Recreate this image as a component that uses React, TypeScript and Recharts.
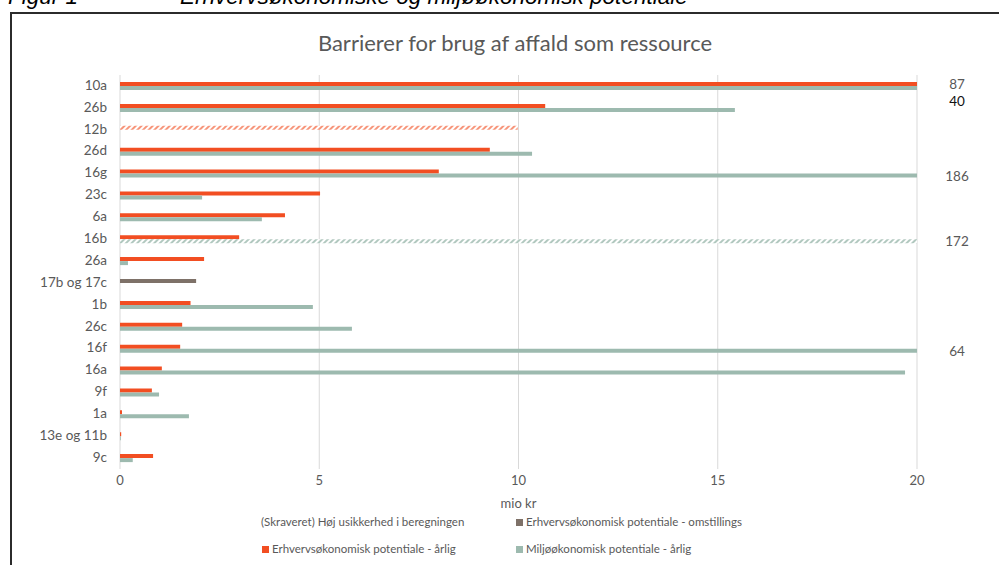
import React from 'react';
import { BarChart, Bar, XAxis, YAxis, CartesianGrid, Cell, LabelList, Legend } from 'recharts';

const categories = ['10a', '26b', '12b', '26d', '16g', '23c', '6a', '16b', '26a', '17b og 17c', '1b', '26c', '16f', '16a', '9f', '1a', '13e og 11b', '9c'];
const erhvervAarlig = [87, 10.67, 9.98, 9.28, 8.0, 5.02, 4.14, 2.99, 2.11, 0, 1.77, 1.56, 1.51, 1.05, 0.8, 0.05, 0.03, 0.83];
const erhvervOmstilling = [0, 0, 0, 0, 0, 0, 0, 0, 0, 1.91, 0, 0, 0, 0, 0, 0, 0, 0];
const miljoeAarlig = [40, 15.43, 0, 10.34, 186, 2.06, 3.56, 172, 0.2, 0, 4.84, 5.82, 64, 19.7, 0.98, 1.73, 0.02, 0.32];
const hatchedErhverv = ['12b'];
const hatchedMiljoe = ['16b'];
const xTicks = [0, 5, 10, 15, 20];

const figurLabel = 'Figur 1';
const figurText = 'Erhvervsøkonomiske og miljøøkonomisk potentiale';
const chartTitle = 'Barrierer for brug af affald som ressource';
const xAxisTitle = 'mio kr';
const legendHatch = '(Skraveret) Høj usikkerhed i beregningen';
const legendOmstilling = 'Erhvervsøkonomisk potentiale - omstillings';
const legendErhverv = 'Erhvervsøkonomisk potentiale - årlig';
const legendMiljoe = 'Miljøøkonomisk potentiale - årlig';

const ORANGE = '#F24E22';
const GREEN = '#9DBAAF';
const BROWN = '#7E7168';
const TEXT = '#595959';
const FONT = 'Lato, "Open Sans", sans-serif';

const data = categories.map((name, i) => ({
  name,
  erhverv: erhvervAarlig[i],
  omstilling: erhvervOmstilling[i],
  miljoe: miljoeAarlig[i],
}));

const W = 999;
const H = 565;
const MARGIN = { top: 75, right: 82, bottom: 4, left: 0 };
const PLOT_RIGHT = W - MARGIN.right;
const XMAX = xTicks[xTicks.length - 1];

const overflowLabel = (isGreen: boolean) => (props: any) => {
  const { y, height, value, index } = props;
  if (value == null || value <= XMAX) return null;
  const special = isGreen && index === 0;
  const cy = Number(y) + Number(height) / 2 + (special ? 13 : 0);
  return (
    <text
      x={PLOT_RIGHT + 40}
      y={cy}
      textAnchor="middle"
      dominantBaseline="central"
      fontFamily={FONT}
      fontSize={13.5}
      fill={special ? '#111' : TEXT}
    >
      {value}
    </text>
  );
};

const Swatch = ({ color }: { color: string }) => (
  <span style={{ display: 'inline-block', width: 7, height: 7, background: color, marginRight: 3, verticalAlign: 'middle', position: 'relative', top: -1 }} />
);

const LegendContent = () => {
  const row: React.CSSProperties = { position: 'absolute', whiteSpace: 'nowrap', fontFamily: FONT, fontSize: 11.5, color: TEXT, lineHeight: '14px' };
  return (
    <div style={{ position: 'relative', width: W, height: 50 }}>
      <div style={{ ...row, left: 261, top: 5 }}>{legendHatch}</div>
      <div style={{ ...row, left: 516, top: 5 }}><Swatch color={BROWN} />{legendOmstilling}</div>
      <div style={{ ...row, left: 262, top: 32 }}><Swatch color={ORANGE} />{legendErhverv}</div>
      <div style={{ ...row, left: 516, top: 32 }}><Swatch color={GREEN} />{legendMiljoe}</div>
    </div>
  );
};

export default function App() {
  return (
    <div style={{ position: 'absolute', left: 0, top: 0, width: W, height: H, overflow: 'hidden', background: '#fff' }}>
      <div style={{ position: 'absolute', left: 10, top: 12, width: 1100, height: 700, border: '2px solid #2b2b2b', boxSizing: 'border-box' }} />
      <svg style={{ position: 'absolute', left: 0, top: 0 }} width={W} height={60}>
        <text x={8} y={4} fontFamily='"Liberation Sans", Arial, sans-serif' fontStyle="italic" fontSize={22.5} fill="#000">{figurLabel}</text>
        <text x={180} y={4} fontFamily='"Liberation Sans", Arial, sans-serif' fontStyle="italic" fontSize={22.5} fill="#000">{figurText}</text>
        <text x={515} y={42} textAnchor="middle" dominantBaseline="central" fontFamily={FONT} fontSize={22} fill={TEXT}>{chartTitle}</text>
      </svg>
      <div style={{ position: 'absolute', left: 0, top: 0 }}>
        <BarChart width={W} height={H} data={data} layout="vertical" margin={MARGIN} barSize={4} barGap={0}>
          <defs>
            <pattern id="hatchOrange" patternUnits="userSpaceOnUse" width={4} height={4} patternTransform="rotate(45)">
              <rect width={4} height={4} fill="#fff" />
              <rect width={2} height={4} fill={ORANGE} fillOpacity={0.6} />
            </pattern>
            <pattern id="hatchGreen" patternUnits="userSpaceOnUse" width={4} height={4} patternTransform="rotate(45)">
              <rect width={4} height={4} fill="#fff" />
              <rect width={2} height={4} fill={GREEN} fillOpacity={0.8} />
            </pattern>
          </defs>
          <CartesianGrid horizontal={false} stroke="#d9d9d9" />
          <XAxis
            type="number"
            domain={[0, XMAX]}
            ticks={xTicks}
            allowDataOverflow
            axisLine={false}
            tickLine={false}
            tickMargin={1}
            height={42}
            tick={{ fill: TEXT, fontSize: 13, fontFamily: FONT }}
            label={{ value: xAxisTitle, position: 'insideBottom', offset: 3, fill: TEXT, fontSize: 13, fontFamily: FONT }}
          />
          <YAxis
            type="category"
            dataKey="name"
            width={120}
            axisLine={false}
            tickLine={false}
            tickMargin={7}
            interval={0}
            tick={{ fill: TEXT, fontSize: 13.5, fontFamily: FONT, dy: -1 }}
          />
          <Legend content={<LegendContent />} wrapperStyle={{ position: 'absolute', left: 0, top: 510, width: W, height: 50 }} />
          <Bar dataKey="erhverv" stackId="a" fill={ORANGE} isAnimationActive={false}>
            {data.map((d) => (
              <Cell key={d.name} fill={hatchedErhverv.includes(d.name) ? 'url(#hatchOrange)' : ORANGE} />
            ))}
            <LabelList dataKey="erhverv" content={overflowLabel(false)} />
          </Bar>
          <Bar dataKey="omstilling" stackId="a" fill={BROWN} isAnimationActive={false} />
          <Bar dataKey="miljoe" fill={GREEN} isAnimationActive={false}>
            {data.map((d) => (
              <Cell key={d.name} fill={hatchedMiljoe.includes(d.name) ? 'url(#hatchGreen)' : GREEN} />
            ))}
            <LabelList dataKey="miljoe" content={overflowLabel(true)} />
          </Bar>
        </BarChart>
      </div>
    </div>
  );
}
